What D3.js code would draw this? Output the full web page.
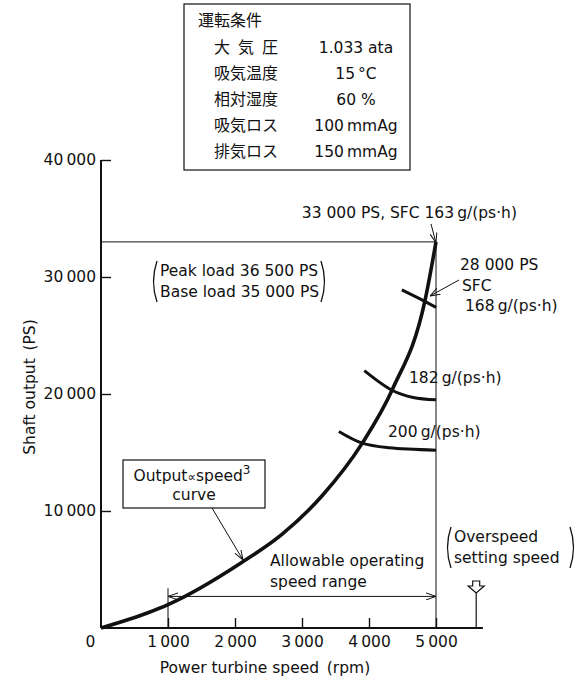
<!DOCTYPE html>
<html>
<head>
<meta charset="utf-8">
<script src="https://cdn.jsdelivr.net/npm/d3@7"></script>
<style>
  body { margin: 0; background: #fff; }
  text { font-family: "DejaVu Sans", "Noto Sans CJK JP", sans-serif; font-size: 15.5px; fill: #111; }
  .cjk { font-family: "Noto Sans CJK JP", sans-serif; font-size: 16px; }
</style>
</head>
<body>
<div class="chart"></div>
<script>
// chart values
const speedTicks = [0, 1000, 2000, 3000, 4000, 5000];
const outputTicks = [10000, 20000, 30000, 40000];

// output ~ speed^3 curve (rpm, PS)
const cubeCurve = [[0, 0], [700, 1300], [1000, 2000], [2100, 5600], [2700, 8000],
  [3300, 11300], [3900, 15800], [4350, 20400], [4840, 28100], [5000, 33000]];

// constant SFC lines
const sfc200 = [[3550, 16800], [3900, 15800], [4300, 15400], [5000, 15200]];
const sfc182 = [[3930, 22000], [4350, 20300], [4660, 19700], [5000, 19500]];
const sfc168 = [[4490, 28900], [4840, 27900], [5000, 27400]];

const ratedSpeed = 5000, ratedOutput = 33000;
const rangeSpeeds = [1000, 5000];
const overSpeed = 5600;
const axisEndSpeed = 5700;

const conditionTitle = "運転条件";
const conditionLabels = ["大気圧", "吸気温度", "相対湿度", "吸気ロス", "排気ロス"];
const conditionValues = ["1.033 ata", "15\u2009°C", "60 %", "100\u2009mmAg", "150\u2009mmAg"];

let width = 584, height = 679;

const svg = d3.select(".chart").append("svg")
    .attr("width", width)
    .attr("height", height);

svg.append("rect").attr("width", width).attr("height", height).attr("fill", "#fff");

const x = d3.scaleLinear().domain([0, 5000]).range([101, 436]);
const y = d3.scaleLinear().domain([0, 40000]).range([628, 160]);

const fmt = d => d3.format(",")(d).replace(/,/g, "\u2009");

// arrow head (open V)
const defs = svg.append("defs");
defs.append("marker")
    .attr("id", "vhead")
    .attr("viewBox", "0 0 10 8")
    .attr("refX", 10).attr("refY", 4)
    .attr("markerWidth", 10).attr("markerHeight", 8)
    .attr("markerUnits", "userSpaceOnUse")
    .attr("orient", "auto-start-reverse")
  .append("path")
    .attr("d", "M0,0.5 L10,4 L0,7.5")
    .attr("fill", "none").attr("stroke", "#111").attr("stroke-width", 1);

// axes
const gy = svg.append("g").attr("transform", `translate(${x(0)},0)`)
    .call(d3.axisLeft(y).tickValues(outputTicks).tickSize(-10).tickPadding(5).tickFormat(fmt));
const gx = svg.append("g").attr("transform", `translate(0,${y(0)})`)
    .call(d3.axisBottom(x).tickValues(speedTicks).tickSize(-10).tickPadding(8).tickFormat(fmt));
[gx, gy].forEach(g => {
  g.select(".domain").remove();
  g.selectAll(".tick line").attr("stroke", "#111").attr("stroke-width", 1.4);
  g.selectAll(".tick text").attr("font-size", 16).attr("font-family", null);
});
gx.selectAll(".tick").filter(d => d === 0).select("line").remove();
gx.selectAll(".tick").filter(d => d === 0).select("text").attr("x", -11);

svg.append("line")
    .attr("x1", x(0)).attr("x2", x(0)).attr("y1", y(0)).attr("y2", y(40000))
    .attr("stroke", "#111").attr("stroke-width", 2);
svg.append("line")
    .attr("x1", x(0)).attr("x2", x(axisEndSpeed)).attr("y1", y(0)).attr("y2", y(0))
    .attr("stroke", "#111").attr("stroke-width", 2);

svg.append("text").attr("x", 265).attr("y", 673).attr("text-anchor", "middle")
    .text("Power turbine speed\u2002(rpm)");
svg.append("text").attr("transform", "translate(35,387) rotate(-90)").attr("text-anchor", "middle")
    .text("Shaft output\u2002(PS)");

// rated lines
svg.append("path")
    .attr("d", `M${x(0)},${y(ratedOutput)}H${x(ratedSpeed)}V${y(0)}`)
    .attr("fill", "none").attr("stroke", "#111").attr("stroke-width", 1);

// curves
const line = d3.line().x(d => x(d[0])).y(d => y(d[1])).curve(d3.curveMonotoneX);
const arc = d3.line().x(d => x(d[0])).y(d => y(d[1])).curve(d3.curveCatmullRom.alpha(0.5));
svg.append("path").datum(cubeCurve).attr("d", line)
    .attr("fill", "none").attr("stroke", "#111").attr("stroke-width", 3.6);
[sfc200, sfc182, sfc168].forEach(s => {
  svg.append("path").datum(s).attr("d", arc)
      .attr("fill", "none").attr("stroke", "#111").attr("stroke-width", 3);
});

// allowable range
svg.append("line")
    .attr("x1", x(rangeSpeeds[0])).attr("x2", x(rangeSpeeds[1]))
    .attr("y1", y(2700)).attr("y2", y(2700))
    .attr("stroke", "#111").attr("stroke-width", 1)
    .attr("marker-start", "url(#vhead)").attr("marker-end", "url(#vhead)");
svg.append("line")
    .attr("x1", x(rangeSpeeds[0])).attr("x2", x(rangeSpeeds[0]))
    .attr("y1", y(3400)).attr("y2", y(0))
    .attr("stroke", "#111").attr("stroke-width", 1);
svg.append("text").attr("x", 270).attr("y", 566).text("Allowable operating");
svg.append("text").attr("x", 270).attr("y", 587).text("speed range");

// overspeed marker
const ox = x(overSpeed);
svg.append("line").attr("x1", ox).attr("x2", ox).attr("y1", 593).attr("y2", y(0))
    .attr("stroke", "#111").attr("stroke-width", 1.2);
svg.append("path")
    .attr("d", `M${ox - 3.5},581 H${ox + 3.5} V586 H${ox + 8} L${ox},593 L${ox - 8},586 H${ox - 3.5} Z`)
    .attr("fill", "#fff").attr("stroke", "#111").attr("stroke-width", 1.2);
svg.append("text").attr("x", 454).attr("y", 542).text("Overspeed");
svg.append("text").attr("x", 454).attr("y", 563).text("setting speed");

// big parentheses
function parens(x0, x1, y0, y1) {
  const m = (y0 + y1) / 2;
  svg.append("path").attr("d", `M${x0 + 4},${y0} Q${x0 - 3},${m} ${x0 + 4},${y1}`)
      .attr("fill", "none").attr("stroke", "#111").attr("stroke-width", 1.3);
  svg.append("path").attr("d", `M${x1 - 4},${y0} Q${x1 + 3},${m} ${x1 - 4},${y1}`)
      .attr("fill", "none").attr("stroke", "#111").attr("stroke-width", 1.3);
}
parens(447, 574, 527, 568);
parens(153, 325, 261, 302);

svg.append("text").attr("x", 160).attr("y", 276).text("Peak load 36 500 PS");
svg.append("text").attr("x", 160).attr("y", 297).text("Base load 35 000 PS");

// SFC labels
svg.append("text").attr("x", 517).attr("y", 218).attr("text-anchor", "end")
    .text("33 000 PS, SFC 163\u2009g/(ps·h)");
svg.append("line").attr("x1", 431).attr("y1", 224).attr("x2", x(ratedSpeed)).attr("y2", y(ratedOutput) + 1)
    .attr("stroke", "#111").attr("stroke-width", 1).attr("marker-end", "url(#vhead)");
svg.append("text").attr("x", 460).attr("y", 270).text("28 000 PS");
svg.append("text").attr("x", 462).attr("y", 291).text("SFC");
svg.append("text").attr("x", 465).attr("y", 311).text("168\u2009g/(ps·h)");
svg.append("line").attr("x1", 459).attr("y1", 280).attr("x2", 430).attr("y2", 296)
    .attr("stroke", "#111").attr("stroke-width", 1).attr("marker-end", "url(#vhead)");
svg.append("text").attr("x", 409).attr("y", 383).text("182\u2009g/(ps·h)");
svg.append("text").attr("x", 388).attr("y", 437).text("200\u2009g/(ps·h)");

// output ~ speed^3 box
svg.append("rect").attr("x", 123).attr("y", 460).attr("width", 142).attr("height", 48)
    .attr("fill", "#fff").attr("stroke", "#111").attr("stroke-width", 1.2);
const t1 = svg.append("text").attr("x", 192).attr("y", 481).attr("text-anchor", "middle");
t1.append("tspan").text("Output");
t1.append("tspan").attr("font-size", 12).text("\u221D");
t1.append("tspan").text("speed");
t1.append("tspan").attr("font-size", 12).attr("dy", -7).text("3");
svg.append("text").attr("x", 194).attr("y", 500).attr("text-anchor", "middle").text("curve");
svg.append("line").attr("x1", 212).attr("y1", 508).attr("x2", 243).attr("y2", 560)
    .attr("stroke", "#111").attr("stroke-width", 1).attr("marker-end", "url(#vhead)");

// operating conditions box
svg.append("rect").attr("x", 184).attr("y", 4).attr("width", 226).attr("height", 166)
    .attr("fill", "#fff").attr("stroke", "#111").attr("stroke-width", 1.2);
svg.append("text").attr("class", "cjk").attr("x", 198).attr("y", 26).text(conditionTitle);
conditionLabels.forEach((lab, i) => {
  svg.append("text").attr("class", "cjk").attr("x", 214).attr("y", 53 + i * 26)
      .attr("textLength", 64).attr("lengthAdjust", "spacing").text(lab);
  svg.append("text").attr("x", 356).attr("y", 53 + i * 26).attr("text-anchor", "middle")
      .text(conditionValues[i]);
});
</script>
</body>
</html>
